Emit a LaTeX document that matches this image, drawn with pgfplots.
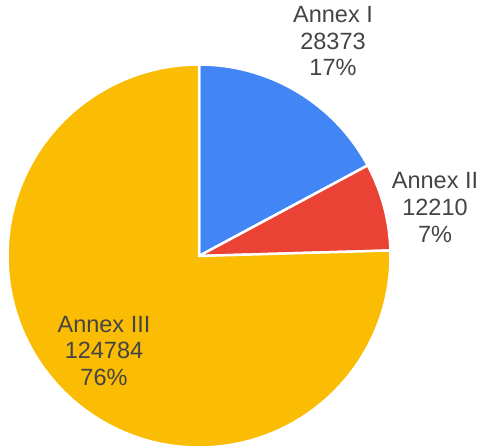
\documentclass[border=0pt]{standalone}
\usepackage{pgfplots}
\pgfplotsset{compat=1.18}
\usepackage{pgfplotstable}
\usepackage{fontspec}
\setmainfont{Liberation Sans}

\definecolor{pieblue}{HTML}{4285F4}
\definecolor{piered}{HTML}{EA4335}
\definecolor{pieyellow}{HTML}{FBBC04}
\definecolor{labelgray}{HTML}{444444}

\pgfplotstableread{
name value
I 28373
II 12210
III 124784
}\piedata

% slice angles (start at 12 o'clock, clockwise)
\pgfplotstablegetelem{0}{value}\of\piedata \edef\vI{\pgfplotsretval}
\pgfplotstablegetelem{1}{value}\of\piedata \edef\vII{\pgfplotsretval}
\pgfplotstablegetelem{2}{value}\of\piedata \edef\vIII{\pgfplotsretval}
\edef\total{\fpeval{\vI+\vII+\vIII}}
\edef\aI{\fpeval{90-360*\vI/\total}}
\edef\aII{\fpeval{\aI-360*\vII/\total}}

\begin{document}
\begin{tikzpicture}
  \begin{axis}[
      hide axis,
      scale only axis,
      width=487bp, height=447bp,
      xmin=0, xmax=487, ymin=0, ymax=447,
      y dir=reverse,
      clip=true,
    ]
    \path (axis cs:0,0) rectangle (axis cs:487,447);
    \def\cx{199}\def\cy{256}\def\r{191.5bp}
    \filldraw[fill=pieblue, draw=white, line width=2.5bp, line join=round]
      (axis cs:\cx,\cy) -- ++(90:\r) arc[start angle=90, end angle=\aI, radius=\r] -- cycle;
    \filldraw[fill=piered, draw=white, line width=2.5bp, line join=round]
      (axis cs:\cx,\cy) -- ++(\aI:\r) arc[start angle=\aI, end angle=\aII, radius=\r] -- cycle;
    \filldraw[fill=pieyellow, draw=white, line width=2.5bp, line join=round]
      (axis cs:\cx,\cy) -- ++(\aII:\r) arc[start angle=\aII, end angle=-270, radius=\r] -- cycle;

    \tikzset{lbl/.style={anchor=base, inner sep=0pt, text=labelgray,
      font=\fontsize{23.5bp}{27bp}\selectfont}}
    \node[lbl] at (axis cs:333,23) {Annex I};
    \node[lbl] at (axis cs:333,49.5) {28373};
    \node[lbl] at (axis cs:333,76) {17\%};
    \node[lbl] at (axis cs:435,188) {Annex II};
    \node[lbl] at (axis cs:435,215) {12210};
    \node[lbl] at (axis cs:435,242) {7\%};
    \node[lbl] at (axis cs:104,332) {Annex III};
    \node[lbl] at (axis cs:104,358.5) {124784};
    \node[lbl] at (axis cs:104,385) {76\%};
  \end{axis}
\end{tikzpicture}
\end{document}
